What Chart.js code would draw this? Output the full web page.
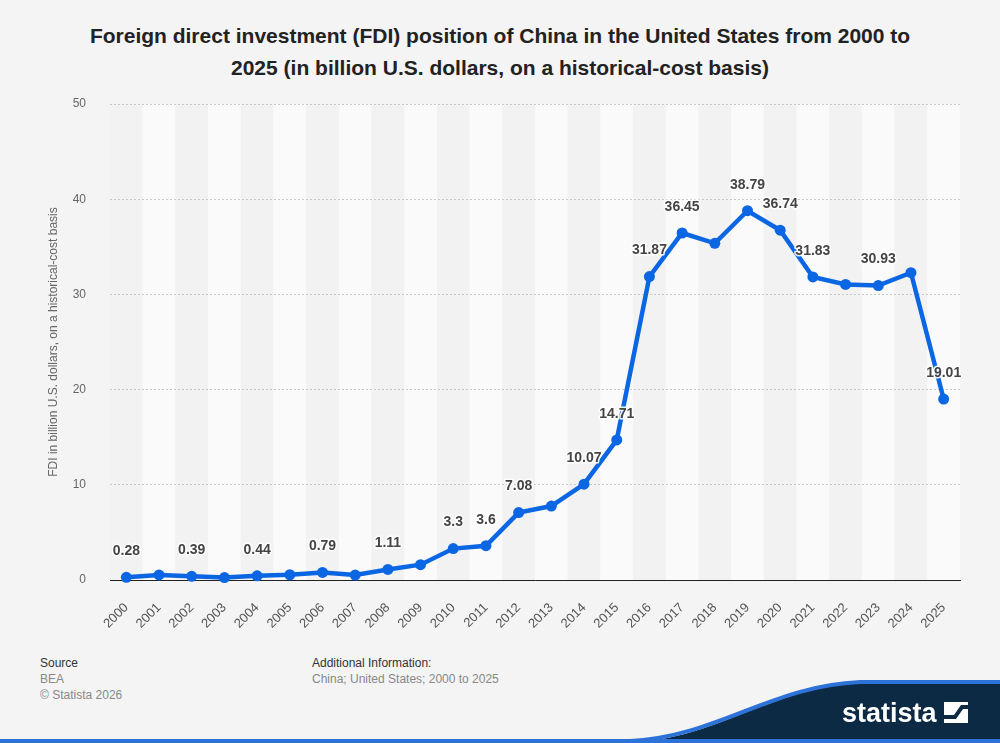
<!DOCTYPE html>
<html>
<head>
<meta charset="utf-8">
<script src="https://cdn.jsdelivr.net/npm/chart.js@4.4.1/dist/chart.umd.min.js"></script>
<style>
  html, body { margin:0; padding:0; background:#f4f4f4; width:1000px; height:743px; overflow:hidden; font-family:"Liberation Sans", Arial, sans-serif; }
  #title { position:absolute; left:0; top:20px; width:1000px; text-align:center; font-weight:bold; font-size:21px; line-height:32px; color:#222; }
  #wrap { position:absolute; left:0; top:0; width:1000px; height:640px; }
  .ft { position:absolute; font-size:12px; line-height:16px; }
  .dark { color:#333; }
  .light { color:#888; }
  #logo { position:absolute; left:0; top:0; }
</style>
</head>
<body>
<div id="title">Foreign direct investment (FDI) position of China in the United States from 2000 to<br>2025 (in billion U.S. dollars, on a historical-cost basis)</div>
<div id="wrap"><canvas id="c" width="1000" height="640"></canvas></div>
<div class="ft dark" style="left:40px; top:655px;">Source</div>
<div class="ft light" style="left:40px; top:671px;">BEA</div>
<div class="ft light" style="left:40px; top:687px;">© Statista 2026</div>
<div class="ft dark" style="left:312px; top:655px;">Additional Information:</div>
<div class="ft light" style="left:312px; top:671px;">China; United States; 2000 to 2025</div>
<svg id="logo" width="1000" height="743" viewBox="0 0 1000 743">
  <path d="M630 743 C 720 738, 770 688, 860 683 L 1000 683 L 1000 743 Z" fill="#0d2a45"/>
  <path d="M630 741 C 720 736, 770 686, 860 682 L 1000 682" fill="none" stroke="#2c72d8" stroke-width="4"/>
  <rect x="0" y="739" width="1000" height="4" fill="#2c72d8"/>
  <text x="842" y="722" fill="#ffffff" font-family="Liberation Sans, Arial, sans-serif" font-weight="bold" font-size="27">statista</text>
  <rect x="944" y="702" width="24" height="21" fill="#ffffff"/>
  <path d="M944 715 L954 715 L961 705 L968 705 L968 709 L963 709 L956 719 L944 719 Z" fill="#0d2a45"/>
</svg>
<script>
const years = ["2000","2001","2002","2003","2004","2005","2006","2007","2008","2009","2010","2011","2012","2013","2014","2015","2016","2017","2018","2019","2020","2021","2022","2023","2024","2025"];
const fdiValues = [0.28, 0.53, 0.39, 0.25, 0.44, 0.55, 0.79, 0.52, 1.11, 1.61, 3.3, 3.6, 7.08, 7.77, 10.07, 14.71, 31.87, 36.45, 35.37, 38.79, 36.74, 31.83, 31.05, 30.93, 32.28, 19.01];
const showLabel = [true,false,true,false,true,false,true,false,true,false,true,true,true,false,true,true,true,true,false,true,true,true,false,true,false,true];
const yTicks = [0, 10, 20, 30, 40, 50];

const stripes = {
  id: 'stripes',
  beforeDraw(chart) {
    const {ctx, chartArea, scales} = chart;
    const xs = scales.x;
    const w = xs.getPixelForValue(1) - xs.getPixelForValue(0);
    ctx.save();
    for (let i = 0; i < years.length; i++) {
      const cx = xs.getPixelForValue(i);
      ctx.fillStyle = (i % 2 === 1) ? '#fafafa' : '#f2f2f2';
      ctx.fillRect(cx - w / 2, chartArea.top, w, chartArea.bottom - chartArea.top);
    }
    ctx.restore();
  }
};

const valueLabels = {
  id: 'valueLabels',
  afterDatasetsDraw(chart) {
    const {ctx} = chart;
    const meta = chart.getDatasetMeta(0);
    ctx.save();
    ctx.font = 'bold 14px "Liberation Sans", Arial, sans-serif';
    ctx.textAlign = 'center';
    ctx.textBaseline = 'middle';
    ctx.lineJoin = 'round';
    meta.data.forEach((pt, i) => {
      if (!showLabel[i]) return;
      const txt = String(fdiValues[i]);
      const x = pt.x, y = pt.y - 26;
      ctx.strokeStyle = 'rgba(255,255,255,0.9)';
      ctx.lineWidth = 3;
      ctx.strokeText(txt, x, y);
      ctx.fillStyle = '#444';
      ctx.fillText(txt, x, y);
    });
    ctx.restore();
  }
};

new Chart(document.getElementById('c'), {
  type: 'line',
  data: {
    labels: years,
    datasets: [{
      data: fdiValues,
      borderColor: '#0b66e4',
      backgroundColor: '#0b66e4',
      borderWidth: 4.5,
      pointRadius: 5.5,
      pointHoverRadius: 5.5,
      pointBackgroundColor: '#0b66e4',
      pointBorderColor: '#0b66e4',
      pointBorderWidth: 0,
      tension: 0,
      clip: false
    }]
  },
  options: {
    responsive: false,
    animation: false,
    devicePixelRatio: 1,
    layout: { padding: { top: 104, right: 40, left: 0, bottom: 0 } },
    plugins: { legend: { display: false }, tooltip: { enabled: false }, title: { display: false } },
    scales: {
      x: {
        offset: true,
        grid: { display: false, drawTicks: false },
        border: { display: true, color: '#222', width: 1 },
        ticks: { maxRotation: 45, minRotation: 45, autoSkip: false, padding: 20, color: '#555', font: { size: 13, family: '"Liberation Sans", Arial, sans-serif' } },
        afterFit(s) { s.height = 60; }
      },
      y: {
        min: 0, max: 50,
        afterBuildTicks(s) { s.ticks = yTicks.map(v => ({ value: v })); },
        grid: { color: '#c8c8c8', drawTicks: false, lineWidth: 1 },
        border: { display: false, dash: [2, 2] },
        ticks: { padding: 24, color: '#666', font: { size: 12, family: '"Liberation Sans", Arial, sans-serif' } },
        title: { display: true, text: 'FDI in billion U.S. dollars, on a historical-cost basis', color: '#666', font: { size: 12, family: '"Liberation Sans", Arial, sans-serif' }, padding: { top: 46, bottom: 0 } },
        afterFit(s) { s.width = 110; }
      }
    }
  },
  plugins: [stripes, valueLabels]
});
</script>
</body>
</html>
